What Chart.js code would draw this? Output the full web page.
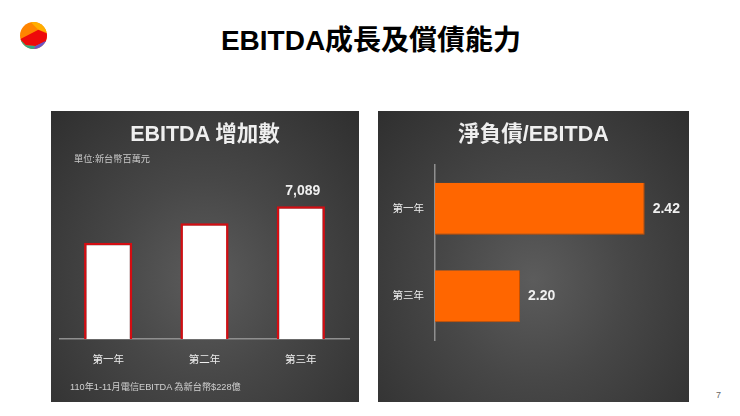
<!DOCTYPE html>
<html>
<head>
<meta charset="utf-8">
<script src="https://cdn.jsdelivr.net/npm/chart.js@4/dist/chart.umd.min.js"></script>
<style>
body { margin: 0; background: #fff; font-family: "Liberation Sans", "Noto Sans CJK TC", sans-serif; }
#page { position: relative; width: 740px; height: 416px; overflow: hidden; }
.panel { position: absolute; top: 111px; height: 291px; background: radial-gradient(ellipse at 50% 58%, #5c5c5c 0%, #474747 42%, #2f2f2f 100%); }
.panel canvas { position: absolute; left: 0; top: 0; }
.txt { position: absolute; white-space: nowrap; }
</style>
</head>
<body>
<div id="page">
    <svg class="txt" style="left:20px;top:22px" width="27" height="27" viewBox="0 0 28 28">
        <defs><clipPath id="c"><circle cx="14" cy="14" r="14"/></clipPath></defs>
        <g clip-path="url(#c)">
            <rect width="28" height="28" fill="#ff8400"/>
            <polygon points="11,0 28,0 28,11 19,8" fill="#ffae00"/>
            <polygon points="0,18 19,8 28,12 28,20 16,25 6,24" fill="#ee0a0a"/>
            <polygon points="16,25 28,19 28,28 14,28" fill="#6a55c8"/>
            <polygon points="0,18 6,24 16,25 14,28 0,28" fill="#2eaa8a"/>
        </g>
    </svg>
    <div class="txt" style="left:0;width:742px;top:24px;text-align:center;font-size:28px;line-height:34px;font-weight:bold;color:#000">EBITDA成長及償債能力</div>

    <div class="panel" style="left:51px;width:308px">
        <canvas id="chartLeft" width="308" height="291"></canvas>
        <div class="txt" style="left:0;width:308px;top:5px;text-align:center;font-size:21.5px;font-weight:bold;color:#efefef">EBITDA 增加數</div>
        <div class="txt" style="left:23px;top:40px;font-size:9.2px;color:#c8c8c8">單位:新台幣百萬元</div>
        <div class="txt" style="left:19px;top:268px;font-size:9.2px;color:#d0d0d0">110年1-11月電信EBITDA 為新台幣$228億</div>
    </div>

    <div class="panel" style="left:378px;width:311px">
        <canvas id="chartRight" width="311" height="291"></canvas>
        <div class="txt" style="left:0;width:311px;top:5px;text-align:center;font-size:21.5px;font-weight:bold;color:#efefef">淨負債/EBITDA</div>
    </div>

    <div class="txt" style="left:716px;top:390px;font-size:9px;color:#666">7</div>
</div>

<script>
const leftYears = ['第一年', '第二年', '第三年'];
const leftValues = [5130, 6180, 7089];
const leftLabels = ['', '', '7,089'];

const rightYears = ['第一年', '第三年'];
const rightValues = [2.42, 2.20];
const rightLabels = ['2.42', '2.20'];

const fontName = '"Liberation Sans", "Noto Sans CJK TC", sans-serif';

// writes the value next to each bar, text comes from the label arrays
function valueLabels(texts, horizontal) {
    return {
        id: 'valueLabels',
        afterDatasetsDraw(chart) {
            let ctx = chart.ctx;
            ctx.save();
            ctx.fillStyle = '#f0f0f0';
            ctx.font = 'bold 14px ' + fontName;
            chart.getDatasetMeta(0).data.forEach((bar, i) => {
                if (horizontal) {
                    ctx.textAlign = 'left';
                    ctx.textBaseline = 'middle';
                    ctx.fillText(texts[i], bar.x + 8, bar.y);
                } else {
                    ctx.textAlign = 'center';
                    ctx.textBaseline = 'bottom';
                    ctx.fillText(texts[i], bar.x + 2, bar.y - 8);
                }
            });
            ctx.restore();
        }
    };
}

new Chart(document.getElementById('chartLeft').getContext('2d'), {
    type: 'bar',
    data: {
        labels: leftYears,
        datasets: [{
            data: leftValues,
            backgroundColor: '#ffffff',
            borderColor: '#d40d12',
            borderWidth: { top: 2.5, left: 2.5, right: 2.5, bottom: 1 },
            barPercentage: 1,
            categoryPercentage: 0.5
        }]
    },
    options: {
        responsive: false,
        animation: false,
        layout: { padding: { left: 9, right: 10, top: 79, bottom: 0 } },
        plugins: { legend: { display: false }, tooltip: { enabled: false } },
        scales: {
            x: {
                afterFit(axis) { axis.height = 63; },
                grid: { display: false },
                border: { color: '#8f8f8f', width: 1.5 },
                ticks: { color: '#efefef', padding: 7, font: { size: 10.5, family: fontName } }
            },
            y: { display: false, min: 0, max: 7950 }
        }
    },
    plugins: [valueLabels(leftLabels, false)]
});

new Chart(document.getElementById('chartRight').getContext('2d'), {
    type: 'bar',
    data: {
        labels: rightYears,
        datasets: [{
            data: rightValues,
            backgroundColor: '#ff6600',
            borderColor: '#c85000',
            borderWidth: { top: 0, left: 0, right: 1, bottom: 1 },
            barPercentage: 1,
            categoryPercentage: 0.594
        }]
    },
    options: {
        indexAxis: 'y',
        responsive: false,
        animation: false,
        layout: { padding: { left: 0, right: 16, top: 54, bottom: 62 } },
        plugins: { legend: { display: false }, tooltip: { enabled: false } },
        scales: {
            x: { display: false, min: 2.05, max: 2.47 },
            y: {
                afterFit(axis) { axis.width = 57; },
                grid: { display: false },
                border: { color: '#8f8f8f', width: 1.5 },
                ticks: { color: '#efefef', padding: 3, font: { size: 10.5, family: fontName } }
            }
        }
    },
    plugins: [valueLabels(rightLabels, true)]
});
</script>
</body>
</html>
